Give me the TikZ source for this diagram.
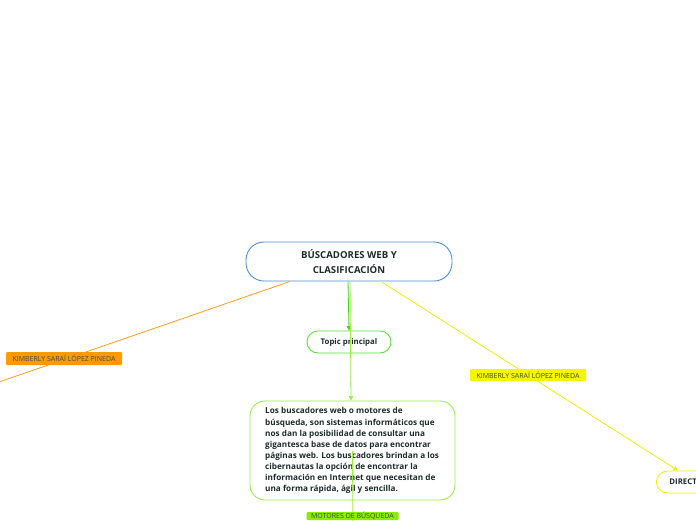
\documentclass[tikz,border=0pt]{standalone}
\usepackage{fontspec}
\setmainfont{Open Sans}
\usetikzlibrary{arrows.meta}
\definecolor{txtdark}{HTML}{1E2B2B}
\definecolor{cblue}{HTML}{4A90D9}
\definecolor{tgreen}{HTML}{55E433}
\definecolor{lgreen}{HTML}{99EE44}
\definecolor{lnorange}{HTML}{FF9A1A}
\definecolor{lnyellow}{HTML}{EEEE11}
\definecolor{lborange}{HTML}{FF9900}
\definecolor{lbyellow}{HTML}{F5F500}
\definecolor{lbgreen}{HTML}{88EE00}
\tikzset{
  box/.style={draw, fill=white, line width=0.9pt, text=txtdark, inner sep=0pt},
  conn/.style={line width=0.8pt, -{Triangle[length=4.5pt,width=4.5pt]}},
  plain/.style={line width=0.8pt},
  lab/.style={inner sep=0pt, text=txtdark!85, font=\fontsize{7}{8}\selectfont, rounded corners=1pt},
}
\begin{document}
\begin{tikzpicture}[x=1pt,y=-1pt]
\useasboundingbox (0,0) rectangle (696,520);
% nodes
\node[box, draw=cblue, rounded corners=18pt, minimum width=206pt, minimum height=39pt,
      align=center, font=\bfseries\fontsize{9.6}{15}\selectfont] (c) at (349,261.5)
      {BÚSCADORES WEB Y\\CLASIFICACIÓN};
\node[box, draw=tgreen, rounded corners=11pt, minimum width=84pt, minimum height=22pt,
      font=\bfseries\fontsize{7.8}{9}\selectfont] (tp) at (349,342) {Topic principal};
\node[box, draw=lgreen, rounded corners=15pt, minimum width=205pt, minimum height=99pt] (tb) at (352.5,450.5) {};
\node[anchor=north west, align=left, inner sep=0pt, text=txtdark,
      font=\bfseries\fontsize{8.2}{11.1}\selectfont] (tbt) at (265,407.5)
      {Los buscadores web o motores de\\
       búsqueda, son sistemas informáticos que\\
       nos dan la posibilidad de consultar una\\
       gigantesca base de datos para encontrar\\
       páginas web. Los buscadores brindan a los\\
       cibernautas la opción de encontrar la\\
       información en Internet que necesitan de\\
       una forma rápida, ágil y sencilla.};
\node[box, draw=lnyellow, rounded corners=11pt, minimum height=22pt, anchor=west,
      text width=60pt, inner xsep=13pt, align=left,
      font=\bfseries\fontsize{7.8}{9}\selectfont] (dir) at (656,482) {DIRECT};
\coordinate (ol) at (-30,392);
\coordinate (off) at (353,560);
% connectors
\draw[conn, draw=tgreen!90!black, fill=tgreen!90!black] ([xshift=-1pt]c.south) -- (tp.north);
\draw[conn, draw=lgreen, fill=lgreen] ([xshift=1pt]c.south) -- ([xshift=-1.5pt]tb.north);
\draw[plain, draw=lgreen] (tb.center) -- (off);
\draw[plain, draw=lnorange] ([xshift=-59pt]c.south) -- (ol);
\draw[conn, draw=lnyellow, fill=lnyellow] ([xshift=32pt]c.south) -- ([xshift=22pt]dir.north west);
% labels
\node[lab, fill=lborange, minimum width=116pt, minimum height=13pt] (l1) at (64,358.5) {KIMBERLY SARAÍ LÓPEZ PINEDA};
\node[lab, fill=lbyellow, minimum width=116pt, minimum height=12pt] (l2) at (528,375) {KIMBERLY SARAÍ LÓPEZ PINEDA};
\node[lab, fill=lbgreen, minimum width=92pt, minimum height=8pt, anchor=north] (l3) at (352.5,512) {MOTORES DE BÚSQUEDA};
\end{tikzpicture}
\end{document}
